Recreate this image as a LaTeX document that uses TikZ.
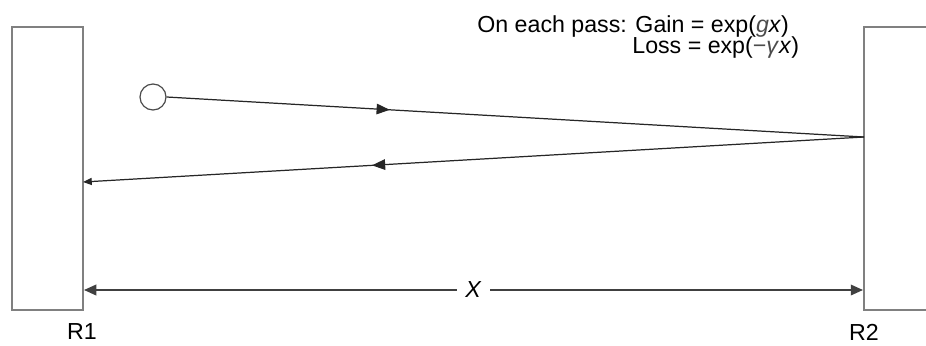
\documentclass[tikz,border=0pt]{standalone}
\usepackage{fontspec}
\setmainfont{Liberation Sans}
\usetikzlibrary{arrows.meta,decorations.markings,positioning}

\tikzset{
  mirror/.style={draw=black!50,line width=1.1pt,minimum width=1.42cm,minimum height=5.66cm,inner sep=0pt},
  beam/.style={draw=black!85,line width=0.7pt},
  midarrow/.style={postaction={decorate},decoration={markings,
      mark=at position #1 with {\arrow{Triangle[length=7.5pt,width=6pt]}}}},
  dimline/.style={draw=black!75,line width=1.1pt,{Triangle[length=7pt,width=6pt]}-{Triangle[length=7pt,width=6pt]}},
  lbl/.style={inner sep=0pt,font=\fontsize{13.2}{15}\selectfont}
}

\begin{document}
\begin{tikzpicture}[x=0.02cm,y=-0.02cm]
\useasboundingbox (0,0) rectangle (926,345);
\clip (0,0) rectangle (926,345);

% the two mirrors
\node[mirror] (R1) at (47.5,168.5) {};
\node[mirror] (R2) at (899.5,168.5) {};
\node[lbl] (R1lbl) at (82,332) {R1};
\node[lbl] (R2lbl) at (864,332) {R2};

% gain and loss per pass
\node[lbl,anchor=base west] (gain) at (477,32) {On each pass: Gain = exp(\textit{\color{black!70}g}\textit{x})};
\node[lbl,anchor=base west] (loss) at (632,53) {Loss = exp(\textcolor{black!70}{−\textit{γ}}\textit{x})};

% the light path
\node[circle,draw=black!70,line width=0.7pt,minimum size=0.52cm,inner sep=0pt] (src) at (153,97) {};
\coordinate (hit) at (864,137);
\coordinate (back) at (83,182);
\draw[beam,midarrow=0.32] (src.east) -- (hit);
\draw[beam,midarrow=0.63,-{Triangle[length=5pt,width=4pt]}] (hit) -- (back);

% mirror spacing
\draw[dimline] (R1.east |- 0,290) -- (R2.west |- 0,290)
  node[midway,fill=white,lbl,inner xsep=5pt] (len) {\textit{X}};
\end{tikzpicture}
\end{document}
